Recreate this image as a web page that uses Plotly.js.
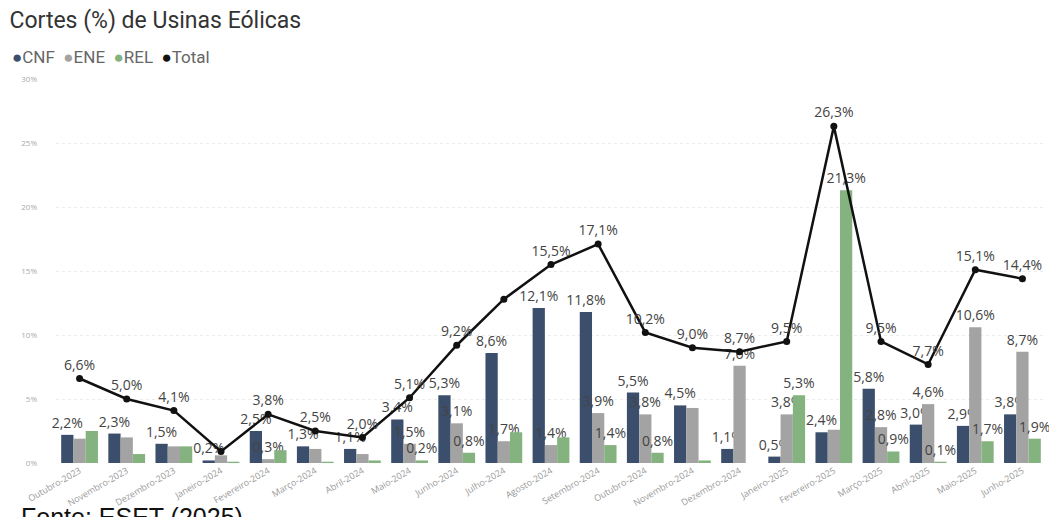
<!DOCTYPE html>
<html>
<head>
<meta charset="utf-8">
<script src="https://cdn.plot.ly/plotly-3.0.1.min.js"></script>
<style>html,body{margin:0;padding:0;background:#fff;}#chart{width:1049px;height:517px;}</style>
</head>
<body>
<div id="chart"></div>
<script>
const months = ["Outubro-2023","Novembro-2023","Dezembro-2023","Janeiro-2024","Fevereiro-2024","Março-2024","Abril-2024","Maio-2024","Junho-2024","Julho-2024","Agosto-2024","Setembro-2024","Outubro-2024","Novembro-2024","Dezembro-2024","Janeiro-2025","Fevereiro-2025","Março-2025","Abril-2025","Maio-2025","Junho-2025"];
const cnf   = [2.2, 2.3, 1.5, 0.2, 2.5, 1.3, 1.1, 3.4, 5.3, 8.6, 12.1, 11.8, 5.5, 4.5, 1.1, 0.5, 2.4, 5.8, 3.0, 2.9, 3.8];
const ene   = [1.9, 2.0, 1.3, 0.6, 0.3, 1.1, 0.7, 1.5, 3.1, 1.7, 1.4, 3.9, 3.8, 4.3, 7.6, 3.8, 2.6, 2.8, 4.6, 10.6, 8.7];
const rel   = [2.5, 0.7, 1.3, 0.1, 1.0, 0.1, 0.2, 0.2, 0.8, 2.4, 2.0, 1.4, 0.8, 0.2, 0.0, 5.3, 21.3, 0.9, 0.1, 1.7, 1.9];
const total = [6.6, 5.0, 4.1, 0.9, 3.8, 2.5, 2.0, 5.1, 9.2, 12.8, 15.5, 17.1, 10.2, 9.0, 8.7, 9.5, 26.3, 9.5, 7.7, 15.1, 14.4];
// which data labels are visible in the reference (1 = shown)
const showCnf   = [1,1,1,1,1,1,1,1,1,1,1,1,1,1,1,1,1,1,1,1,1];
const showEne   = [0,0,0,0,1,0,0,1,1,1,1,1,1,0,1,1,0,1,1,1,1];
const showRel   = [0,0,0,0,0,0,0,1,1,0,0,1,1,0,0,1,1,1,1,1,1];
const showTotal = [1,1,1,0,1,1,1,1,1,0,1,1,1,1,1,1,1,1,1,1,1];
const yTicks = [0,5,10,15,20,25,30];
const yTickText = ["0%","5%","10%","15%","20%","25%","30%"];
const seriesNames = ["CNF","ENE","REL","Total"];

const fmt = v => v.toFixed(1).replace('.', ',') + '%';
const labels = (vals, mask) => vals.map((v,i) => mask[i] ? fmt(v) : '');

const cCNF = '#3b4e6c', cENE = '#a3a3a3', cREL = '#84b37f', cTot = '#111111';
const colors = [cCNF, cENE, cREL, cTot];
const labFont = {family: 'Open Sans, sans-serif', size: 14, color: '#444'};

function barTrace(name, vals, mask, color) {
  return {
    type: 'bar', name: name, x: months, y: vals,
    marker: {color: color},
    text: labels(vals, mask), textposition: 'outside', cliponaxis: false,
    constraintext: 'none', textfont: labFont,
    showlegend: false, hoverinfo: 'x+y'
  };
}

const data = [
  barTrace('CNF', cnf, showCnf, cCNF),
  barTrace('ENE', ene, showEne, cENE),
  barTrace('REL', rel, showRel, cREL),
  {
    type: 'scatter', mode: 'lines+markers+text', name: 'Total', x: months, y: total,
    line: {color: cTot, width: 2.5}, marker: {color: cTot, size: 7},
    text: labels(total, showTotal), textposition: 'top center', textfont: labFont,
    cliponaxis: false, showlegend: false
  }
];

const legendText = seriesNames.map((n,i) =>
  '<span style="color:' + colors[i] + '">●</span>' + n).join('  ');

const layout = {
  width: 1049, height: 517,
  margin: {l: 56, r: 3, t: 79, b: 54, autoexpand: false},
  paper_bgcolor: '#fff', plot_bgcolor: '#fff',
  barmode: 'group', bargap: 0.22, bargroupgap: 0,
  showlegend: false,
  font: {family: 'Open Sans, sans-serif', color: '#444'},
  title: {text: 'Cortes (%) de Usinas Eólicas', x: 0.009, xanchor: 'left', y: 0.961, yanchor: 'middle',
          font: {family: 'Roboto, sans-serif', size: 23, color: '#333'}},
  xaxis: {type: 'category', range: [-0.5, months.length - 0.5], tickangle: -30, tickfont: {size: 9, color: '#999'},
          showgrid: false, zeroline: false, showline: false, ticks: '', automargin: false},
  yaxis: {range: [0, 30], tickvals: yTicks, ticktext: yTickText, tickfont: {size: 8, color: '#aaa'},
          showgrid: true, gridcolor: '#ececec', griddash: 'dot', gridwidth: 1,
          zeroline: false, showline: false, ticks: '', ticklabelstandoff: 18, automargin: false},
  annotations: [
    {text: legendText, xref: 'paper', yref: 'paper', x: -0.046, xanchor: 'left',
     y: 1.057, yanchor: 'middle', showarrow: false,
     font: {family: 'Roboto, sans-serif', size: 17, color: '#666'}},
    {text: 'Fonte: ESET (2025)', xref: 'paper', yref: 'paper', x: -0.037, xanchor: 'left',
     y: -0.1, yanchor: 'top', showarrow: false,
     font: {family: 'Arial, Liberation Sans, sans-serif', size: 25, color: '#111'}}
  ]
};

Plotly.newPlot('chart', data, layout, {displayModeBar: false, staticPlot: true});
</script>
</body>
</html>
